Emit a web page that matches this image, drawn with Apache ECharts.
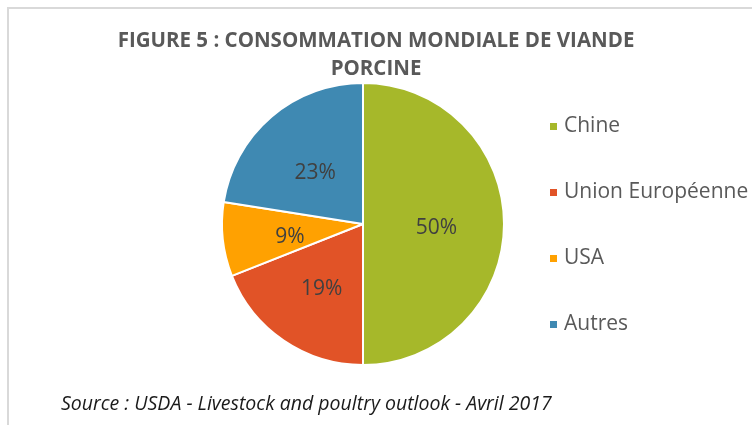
<!DOCTYPE html>
<html>
<head>
<meta charset="utf-8">
<script src="https://cdn.jsdelivr.net/npm/echarts@6/dist/echarts.min.js"></script>
<style>
  html, body { margin: 0; padding: 0; background: #fff; }
  #chart { width: 752px; height: 425px; }
</style>
</head>
<body>
<div id="chart"></div>
<script>
  // données
  var categories = ['Chine', 'Union Européenne', 'USA', 'Autres'];
  var values = [50, 19, 8.5, 22.5];
  var colors = ['#A6B82A', '#E15327', '#FFA101', '#3F89B2'];
  var titleText = 'FIGURE 5 : CONSOMMATION MONDIALE DE VIANDE\nPORCINE';
  var sourceText = 'Source : USDA - Livestock and poultry outlook - Avril 2017';

  var chart = echarts.init(document.getElementById('chart'));

  var pieData = categories.map(function (name, i) {
    return { name: name, value: values[i], itemStyle: { color: colors[i] } };
  });

  chart.setOption({
    backgroundColor: '#fff',
    animation: false,
    title: {
      text: titleText,
      left: 'center',
      top: 22,
      textStyle: {
        fontFamily: 'Open Sans',
        fontWeight: 'bold',
        fontSize: 20.5,
        lineHeight: 28,
        color: '#595959'
      }
    },
    legend: {
      orient: 'vertical',
      left: 543,
      top: 111,
      itemWidth: 9,
      itemHeight: 9,
      itemGap: 45,
      icon: 'rect',
      textStyle: {
        fontFamily: 'Open Sans',
        fontSize: 21,
        color: '#595959',
        padding: [0, 0, 0, 1]
      },
      data: categories
    },
    graphic: [
      {
        type: 'rect',
        shape: { x: 8, y: 8, width: 900, height: 600 },
        style: { fill: 'none', stroke: '#d9d9d9', lineWidth: 2 },
        silent: true
      },
      {
        type: 'text',
        left: 61,
        top: 394,
        style: {
          text: sourceText,
          font: 'italic 19.5px "Open Sans"',
          fill: '#1a1a1a'
        }
      }
    ],
    series: [{
      type: 'pie',
      center: [363, 224],
      radius: 141,
      startAngle: 90,
      clockwise: true,
      itemStyle: {
        borderColor: '#fff',
        borderWidth: 2
      },
      label: {
        show: true,
        position: 'inside',
        fontFamily: 'Open Sans',
        fontSize: 21,
        lineHeight: 9,
        color: '#404040',
        // ligne vide devant pour descendre un peu le texte
        formatter: function (p) {
          return '\n' + Math.round(p.percent) + '%';
        }
      },
      labelLine: { show: false },
      emphasis: { disabled: true },
      data: pieData
    }]
  });
</script>
</body>
</html>
